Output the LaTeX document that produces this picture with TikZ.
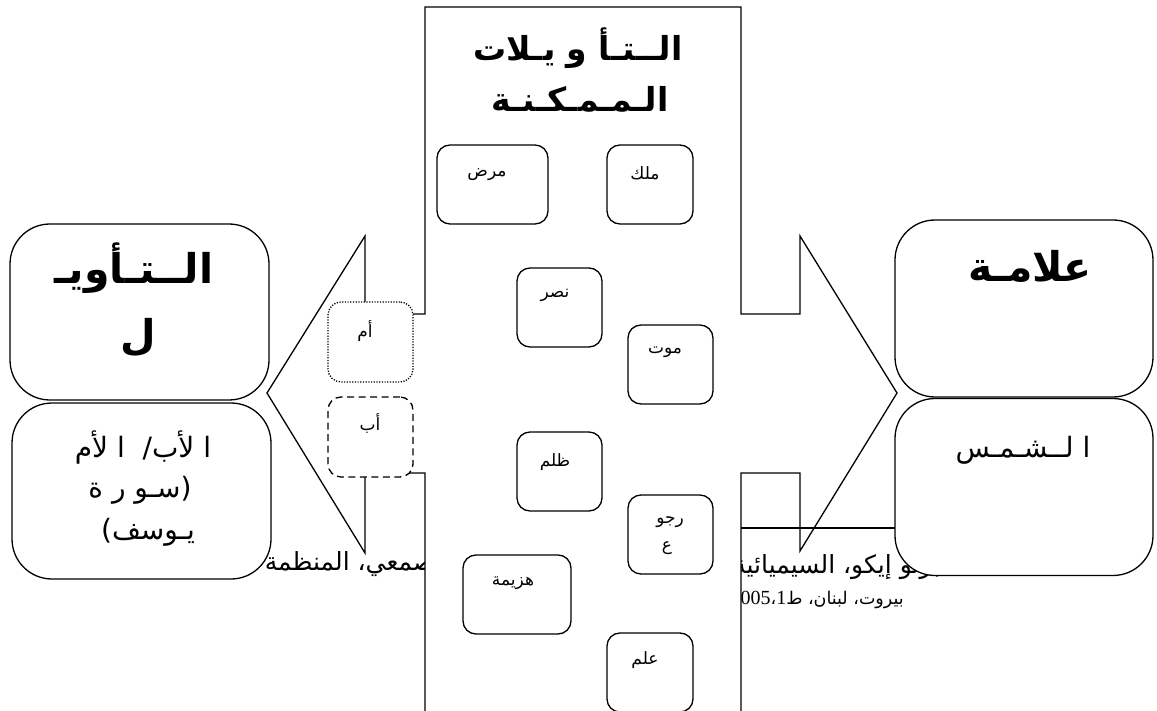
\documentclass[tikz,border=0pt]{standalone}
\usepackage{fontspec}
\setmainfont{DejaVu Sans}
\newfontfamily\ar[Script=Arabic]{DejaVu Sans}
\newfontfamily\dg{Liberation Serif}
\TeXXeTstate=1
\begin{document}
\begin{tikzpicture}[x=1pt,y=-1pt,line width=1.3pt,
  sbox/.style={draw,fill=white,rounded corners=13pt,minimum height=79pt,inner sep=0pt},
  bigbox/.style={draw,fill=white,rounded corners=40pt,minimum width=259pt,minimum height=176pt,inner sep=0pt},
  dotbox/.style={dash pattern=on 1.2pt off 1.5pt},
  dashbox/.style={dash pattern=on 7pt off 4.5pt},
  lbl/.style={inner sep=0pt,font=\ar\fontsize{17pt}{19pt}\selectfont},
  ttl/.style={inner sep=0pt,font=\ar\bfseries\fontsize{33pt}{38pt}\selectfont},
  hdr/.style={inner sep=0pt,font=\ar\bfseries\fontsize{41pt}{46pt}\selectfont},
  big/.style={inner sep=0pt,font=\ar\fontsize{28pt}{34pt}\selectfont},
  footA/.style={inner sep=0pt,font=\ar\fontsize{25pt}{28pt}\selectfont},
  footB/.style={inner sep=0pt,font=\ar\fontsize{17.5pt}{20pt}\selectfont},
]
\useasboundingbox (0,0) rectangle (1157,711);
\clip (0,0) rectangle (1157,711);
% footnote text (partly hidden)
\node[footA,anchor=east] (f1) at (962,564) {\beginR أمبرتو إيكو، السيميائية وفلسفة اللغة\endR};
\node[footA,anchor=east] (f2) at (450,564) {\beginR الصمعي، المنظمة العربية\endR};
\node[footB,anchor=west] (f3) at (730,600) {\beginR بيروت، لبنان، ط\beginL\hbox{\dg\fontsize{20pt}{22pt}\selectfont 1}\endL،\beginL\hbox{\dg\fontsize{20pt}{22pt}\selectfont 2005}\endL\endR};
% central double-arrow callout
\draw[fill=white] (425,7) -- (741,7) -- (741,314) -- (800,314) -- (800,236) -- (897,393)
  -- (800,551) -- (800,473) -- (741,473) -- (741,730) -- (425,730) -- (425,473)
  -- (365,473) -- (365,553) -- (267,393) -- (365,236) -- (365,314) -- (425,314) -- cycle;
\coordinate (la) at (741,528); \coordinate (lb) at (895,528);
\draw (la) -- (lb);
% title
\node[ttl] (t1) at (578,48) {\beginR الــتـأ و يـلات\endR};
\node[ttl] (t2) at (580,99) {الـمـمـكـنـة};
% small boxes
\node[sbox,minimum width=111pt] (mard) at (492.5,184.5) {};
\node[lbl] (mardT) at (487,175) {مرض};
\node[sbox,minimum width=86pt] (malik) at (650,184.5) {};
\node[lbl] (malikT) at (645,173) {ملك};
\node[sbox,minimum width=85pt] (nasr) at (559.5,307.5) {};
\node[lbl] (nasrT) at (555,295) {نصر};
\node[sbox,minimum width=85pt] (mawt) at (670.5,364.5) {};
\node[lbl] (mawtT) at (665,352) {موت};
\node[sbox,minimum width=85pt] (zulm) at (559.5,471.5) {};
\node[lbl] (zulmT) at (555,462) {ظلم};
\node[sbox,minimum width=85pt] (ruju) at (670.5,534.5) {};
\node[lbl] (rujuA) at (670,522) {رجو};
\node[lbl] (rujuB) at (667,548) {ع};
\node[sbox,minimum width=108pt] (hazima) at (517,594.5) {};
\node[lbl] (hazimaT) at (513,583) {هزيمة};
\node[sbox,minimum width=86pt] (ilm) at (650,672.5) {};
\node[lbl] (ilmT) at (645,660) {علم};
% dotted / dashed boxes on the left arrow
\node[sbox,dotbox,minimum width=85pt,minimum height=80pt] (umm) at (370.5,342) {};
\node[lbl] (ummT) at (365,331) {أم};
\node[sbox,dashbox,minimum width=85pt,minimum height=80pt] (ab) at (370.5,437) {};
\node[lbl] (abT) at (370,423) {أب};
% left boxes
\node[bigbox] (tawil) at (139.5,312) {};
\node[hdr] (tawilA) at (134,268) {\beginR الــتـأويـ\endR};
\node[hdr] (tawilB) at (138,338) {ل};
\node[bigbox] (abumm) at (141.5,491) {};
\node[big] (abA) at (143,447) {\beginR ا لأب\kern0pt/ \ ا لأم\endR};
\node[big] (abB) at (140,490) {\beginR سـو ر ة\endR\hbox{(}};
\node[big] (abC) at (148,532) {\hbox{)}\beginR يـوسف\endR};
% right boxes
\node[bigbox,minimum width=258pt,minimum height=177pt] (alama) at (1024,308.5) {};
\node[hdr] (alamaT) at (1030,266) {علامـة};
\node[bigbox,minimum width=258pt,minimum height=177pt] (shams) at (1024,487) {};
\node[big] (shamsT) at (1023,450) {\beginR ا لــشـمـس\endR};
\end{tikzpicture}
\end{document}
